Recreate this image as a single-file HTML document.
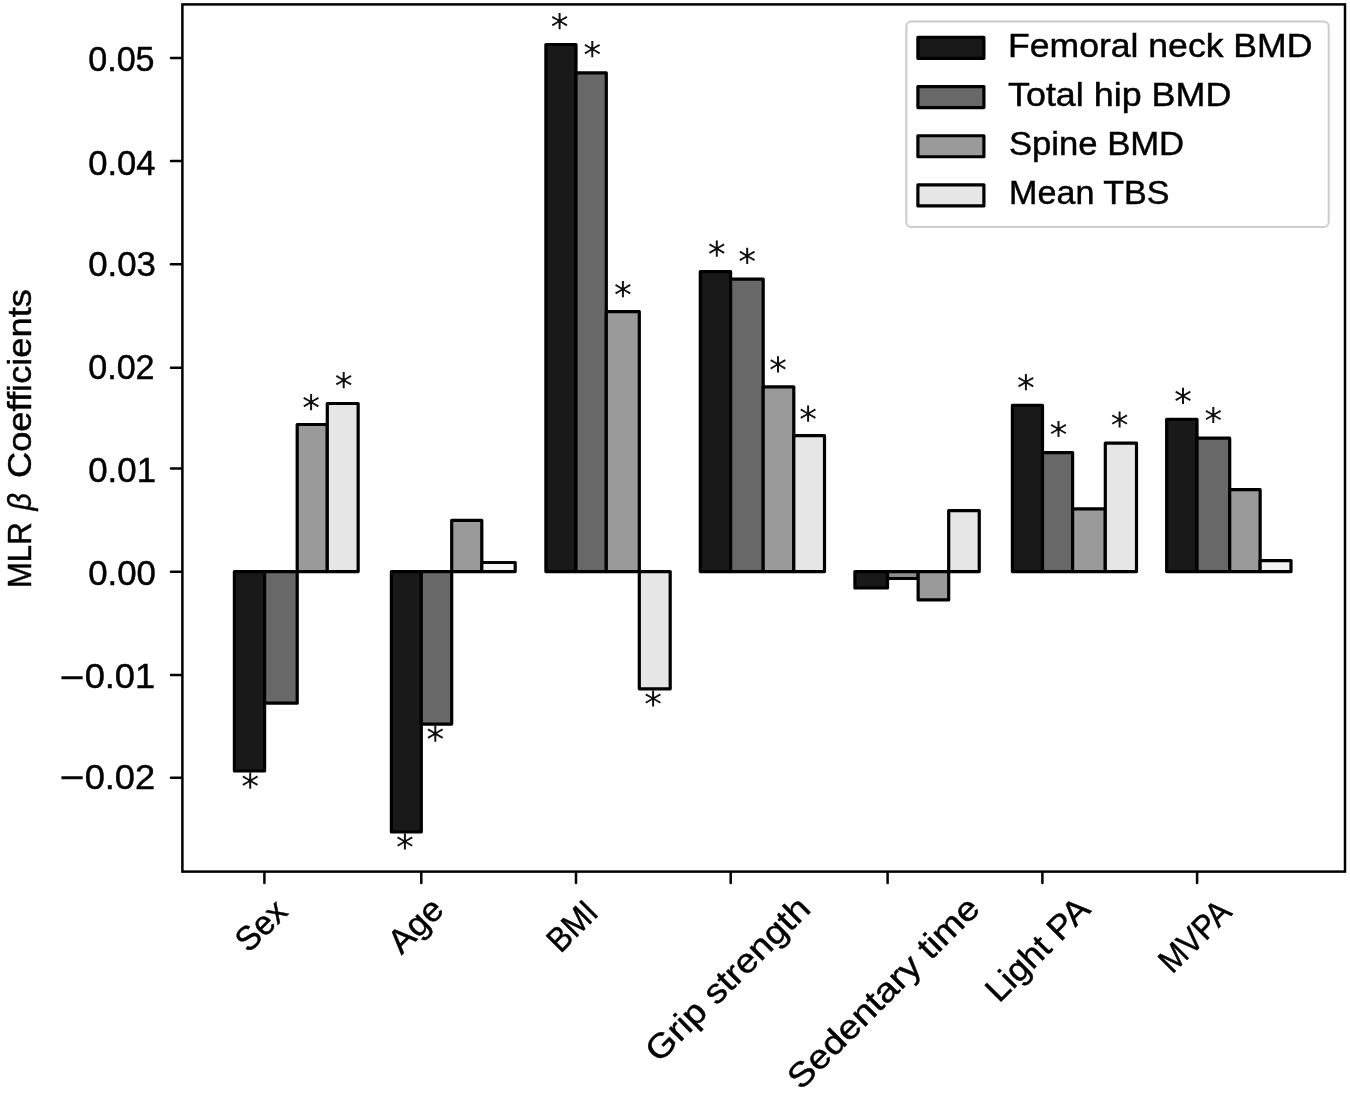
<!DOCTYPE html>
<html lang="en"><head><meta charset="utf-8"><title>MLR beta coefficients</title>
<style>html,body{margin:0;padding:0;background:#fff}body{width:1350px;height:1093px;overflow:hidden}</style></head>
<body>
<svg width="1350" height="1093" viewBox="0 0 1350 1093" style="display:block;will-change:transform;filter:grayscale(1);font-family:'Liberation Sans',sans-serif">
<rect width="1350" height="1093" fill="#fff"/>
<g stroke="#000" stroke-width="3.2" stroke-linejoin="round">
<rect x="234.40" y="571.60" width="30.20" height="199.40" fill="#191919"/>
<rect x="264.60" y="571.60" width="32.60" height="131.60" fill="#686868"/>
<rect x="297.20" y="424.50" width="30.10" height="147.10" fill="#9a9a9a"/>
<rect x="327.30" y="403.50" width="30.85" height="168.10" fill="#e6e6e6"/>
<rect x="391.40" y="571.60" width="29.90" height="260.40" fill="#191919"/>
<rect x="421.30" y="571.60" width="30.40" height="152.50" fill="#686868"/>
<rect x="451.70" y="520.30" width="30.10" height="51.30" fill="#9a9a9a"/>
<rect x="481.80" y="562.50" width="33.40" height="9.10" fill="#f4f4f4"/>
<rect x="545.90" y="44.50" width="30.10" height="527.10" fill="#191919"/>
<rect x="576.00" y="72.80" width="30.30" height="498.80" fill="#686868"/>
<rect x="606.30" y="311.60" width="33.00" height="260.00" fill="#9a9a9a"/>
<rect x="639.30" y="571.60" width="30.90" height="117.20" fill="#e6e6e6"/>
<rect x="700.30" y="271.70" width="30.30" height="299.90" fill="#191919"/>
<rect x="730.60" y="279.10" width="32.60" height="292.50" fill="#686868"/>
<rect x="763.20" y="386.80" width="30.60" height="184.80" fill="#9a9a9a"/>
<rect x="793.80" y="435.70" width="30.70" height="135.90" fill="#e6e6e6"/>
<rect x="854.90" y="571.60" width="32.60" height="16.40" fill="#191919"/>
<rect x="887.50" y="571.60" width="30.65" height="6.90" fill="#8c8c8c"/>
<rect x="918.15" y="571.60" width="30.55" height="28.30" fill="#9a9a9a"/>
<rect x="948.70" y="510.60" width="30.55" height="61.00" fill="#e6e6e6"/>
<rect x="1012.40" y="405.40" width="30.10" height="166.20" fill="#191919"/>
<rect x="1042.50" y="452.60" width="30.10" height="119.00" fill="#686868"/>
<rect x="1072.60" y="508.90" width="32.70" height="62.70" fill="#9a9a9a"/>
<rect x="1105.30" y="443.10" width="31.20" height="128.50" fill="#e6e6e6"/>
<rect x="1166.65" y="419.40" width="30.35" height="152.20" fill="#191919"/>
<rect x="1197.00" y="438.20" width="32.70" height="133.40" fill="#686868"/>
<rect x="1229.70" y="489.70" width="30.45" height="81.90" fill="#9a9a9a"/>
<rect x="1260.15" y="560.60" width="30.85" height="11.00" fill="#f4f4f4"/>
</g>
<g fill="#111">
<path transform="translate(250.20,780.70) scale(0.017334,-0.017334) translate(-512,-1053)" d="M963 1247 604 1053 963 858 905 760 569 963V586H455V963L119 760L61 858L420 1053L61 1247L119 1346L455 1143V1520H569V1143L905 1346Z"/>
<circle cx="250.20" cy="780.70" r="2.1"/>
<path transform="translate(311.10,402.10) scale(0.017334,-0.017334) translate(-512,-1053)" d="M963 1247 604 1053 963 858 905 760 569 963V586H455V963L119 760L61 858L420 1053L61 1247L119 1346L455 1143V1520H569V1143L905 1346Z"/>
<circle cx="311.10" cy="402.10" r="2.1"/>
<path transform="translate(343.70,380.20) scale(0.017334,-0.017334) translate(-512,-1053)" d="M963 1247 604 1053 963 858 905 760 569 963V586H455V963L119 760L61 858L420 1053L61 1247L119 1346L455 1143V1520H569V1143L905 1346Z"/>
<circle cx="343.70" cy="380.20" r="2.1"/>
<path transform="translate(404.90,841.50) scale(0.017334,-0.017334) translate(-512,-1053)" d="M963 1247 604 1053 963 858 905 760 569 963V586H455V963L119 760L61 858L420 1053L61 1247L119 1346L455 1143V1520H569V1143L905 1346Z"/>
<circle cx="404.90" cy="841.50" r="2.1"/>
<path transform="translate(435.30,733.60) scale(0.017334,-0.017334) translate(-512,-1053)" d="M963 1247 604 1053 963 858 905 760 569 963V586H455V963L119 760L61 858L420 1053L61 1247L119 1346L455 1143V1520H569V1143L905 1346Z"/>
<circle cx="435.30" cy="733.60" r="2.1"/>
<path transform="translate(559.60,21.05) scale(0.017334,-0.017334) translate(-512,-1053)" d="M963 1247 604 1053 963 858 905 760 569 963V586H455V963L119 760L61 858L420 1053L61 1247L119 1346L455 1143V1520H569V1143L905 1346Z"/>
<circle cx="559.60" cy="21.05" r="2.1"/>
<path transform="translate(592.30,49.05) scale(0.017334,-0.017334) translate(-512,-1053)" d="M963 1247 604 1053 963 858 905 760 569 963V586H455V963L119 760L61 858L420 1053L61 1247L119 1346L455 1143V1520H569V1143L905 1346Z"/>
<circle cx="592.30" cy="49.05" r="2.1"/>
<path transform="translate(622.90,289.20) scale(0.017334,-0.017334) translate(-512,-1053)" d="M963 1247 604 1053 963 858 905 760 569 963V586H455V963L119 760L61 858L420 1053L61 1247L119 1346L455 1143V1520H569V1143L905 1346Z"/>
<circle cx="622.90" cy="289.20" r="2.1"/>
<path transform="translate(653.10,698.50) scale(0.017334,-0.017334) translate(-512,-1053)" d="M963 1247 604 1053 963 858 905 760 569 963V586H455V963L119 760L61 858L420 1053L61 1247L119 1346L455 1143V1520H569V1143L905 1346Z"/>
<circle cx="653.10" cy="698.50" r="2.1"/>
<path transform="translate(716.80,248.60) scale(0.017334,-0.017334) translate(-512,-1053)" d="M963 1247 604 1053 963 858 905 760 569 963V586H455V963L119 760L61 858L420 1053L61 1247L119 1346L455 1143V1520H569V1143L905 1346Z"/>
<circle cx="716.80" cy="248.60" r="2.1"/>
<path transform="translate(747.20,255.90) scale(0.017334,-0.017334) translate(-512,-1053)" d="M963 1247 604 1053 963 858 905 760 569 963V586H455V963L119 760L61 858L420 1053L61 1247L119 1346L455 1143V1520H569V1143L905 1346Z"/>
<circle cx="747.20" cy="255.90" r="2.1"/>
<path transform="translate(778.00,364.30) scale(0.017334,-0.017334) translate(-512,-1053)" d="M963 1247 604 1053 963 858 905 760 569 963V586H455V963L119 760L61 858L420 1053L61 1247L119 1346L455 1143V1520H569V1143L905 1346Z"/>
<circle cx="778.00" cy="364.30" r="2.1"/>
<path transform="translate(808.10,413.70) scale(0.017334,-0.017334) translate(-512,-1053)" d="M963 1247 604 1053 963 858 905 760 569 963V586H455V963L119 760L61 858L420 1053L61 1247L119 1346L455 1143V1520H569V1143L905 1346Z"/>
<circle cx="808.10" cy="413.70" r="2.1"/>
<path transform="translate(1025.90,382.10) scale(0.017334,-0.017334) translate(-512,-1053)" d="M963 1247 604 1053 963 858 905 760 569 963V586H455V963L119 760L61 858L420 1053L61 1247L119 1346L455 1143V1520H569V1143L905 1346Z"/>
<circle cx="1025.90" cy="382.10" r="2.1"/>
<path transform="translate(1058.50,429.00) scale(0.017334,-0.017334) translate(-512,-1053)" d="M963 1247 604 1053 963 858 905 760 569 963V586H455V963L119 760L61 858L420 1053L61 1247L119 1346L455 1143V1520H569V1143L905 1346Z"/>
<circle cx="1058.50" cy="429.00" r="2.1"/>
<path transform="translate(1119.60,419.50) scale(0.017334,-0.017334) translate(-512,-1053)" d="M963 1247 604 1053 963 858 905 760 569 963V586H455V963L119 760L61 858L420 1053L61 1247L119 1346L455 1143V1520H569V1143L905 1346Z"/>
<circle cx="1119.60" cy="419.50" r="2.1"/>
<path transform="translate(1183.00,395.90) scale(0.017334,-0.017334) translate(-512,-1053)" d="M963 1247 604 1053 963 858 905 760 569 963V586H455V963L119 760L61 858L420 1053L61 1247L119 1346L455 1143V1520H569V1143L905 1346Z"/>
<circle cx="1183.00" cy="395.90" r="2.1"/>
<path transform="translate(1213.30,415.00) scale(0.017334,-0.017334) translate(-512,-1053)" d="M963 1247 604 1053 963 858 905 760 569 963V586H455V963L119 760L61 858L420 1053L61 1247L119 1346L455 1143V1520H569V1143L905 1346Z"/>
<circle cx="1213.30" cy="415.00" r="2.1"/>
</g>
<rect x="182.4" y="4.4" width="1162.6" height="867.2" fill="none" stroke="#000" stroke-width="2.5"/>
<g stroke="#000" stroke-width="2.5" stroke-linecap="round">
<line x1="171.0" x2="181.4" y1="58.00" y2="58.00"/>
<line x1="171.0" x2="181.4" y1="161.10" y2="161.10"/>
<line x1="171.0" x2="181.4" y1="264.35" y2="264.35"/>
<line x1="171.0" x2="181.4" y1="367.80" y2="367.80"/>
<line x1="171.0" x2="181.4" y1="468.50" y2="468.50"/>
<line x1="171.0" x2="181.4" y1="571.75" y2="571.75"/>
<line x1="171.0" x2="181.4" y1="674.90" y2="674.90"/>
<line x1="171.0" x2="181.4" y1="777.80" y2="777.80"/>
<line x1="264.40" x2="264.40" y1="872.6" y2="883.0"/>
<line x1="421.30" x2="421.30" y1="872.6" y2="883.0"/>
<line x1="576.00" x2="576.00" y1="872.6" y2="883.0"/>
<line x1="730.70" x2="730.70" y1="872.6" y2="883.0"/>
<line x1="887.60" x2="887.60" y1="872.6" y2="883.0"/>
<line x1="1042.40" x2="1042.40" y1="872.6" y2="883.0"/>
<line x1="1197.10" x2="1197.10" y1="872.6" y2="883.0"/>
</g>
<g fill="#000" stroke="#000" stroke-width="0.45">
<text x="88.25" y="71.12" font-size="34.2" textLength="66.32" lengthAdjust="spacingAndGlyphs">0.05</text>
<text x="88.25" y="174.67" font-size="34.2" textLength="67.30" lengthAdjust="spacingAndGlyphs">0.04</text>
<text x="88.25" y="275.68" font-size="34.2" textLength="67.73" lengthAdjust="spacingAndGlyphs">0.03</text>
<text x="88.25" y="378.68" font-size="34.2" textLength="66.33" lengthAdjust="spacingAndGlyphs">0.02</text>
<text x="88.25" y="482.08" font-size="34.2" textLength="67.77" lengthAdjust="spacingAndGlyphs">0.01</text>
<text x="88.25" y="584.65" font-size="34.2" textLength="67.71" lengthAdjust="spacingAndGlyphs">0.00</text>
<text y="688.14" font-size="34.2"><tspan x="60.05" y="688.70" textLength="24.67" lengthAdjust="spacingAndGlyphs">−</tspan><tspan x="84.65" y="688.14" textLength="70.51" lengthAdjust="spacingAndGlyphs">0.01</tspan></text>
<text y="789.13" font-size="34.2"><tspan x="60.05" y="789.35" textLength="24.67" lengthAdjust="spacingAndGlyphs">−</tspan><tspan x="84.65" y="789.13" textLength="70.52" lengthAdjust="spacingAndGlyphs">0.02</tspan></text>
</g>
<rect x="906.3" y="21.5" width="422.4" height="205.5" rx="5" ry="5" fill="#fff" fill-opacity="0.8" stroke="#ccc" stroke-width="2"/>
<g fill="#000" stroke="#000" stroke-width="0.45">
<rect x="917.9" y="37.35" width="66" height="21.0" fill="#191919" stroke="#000" stroke-width="3.2" stroke-linejoin="round"/>
<text x="1008.00" y="56.70" font-size="33.8" textLength="304.42" lengthAdjust="spacingAndGlyphs">Femoral neck BMD</text>
<rect x="917.9" y="86.55" width="66" height="21.0" fill="#686868" stroke="#000" stroke-width="3.2" stroke-linejoin="round"/>
<text x="1008.00" y="105.80" font-size="33.8" textLength="223.30" lengthAdjust="spacingAndGlyphs">Total hip BMD</text>
<rect x="917.9" y="135.75" width="66" height="21.0" fill="#9a9a9a" stroke="#000" stroke-width="3.2" stroke-linejoin="round"/>
<text x="1008.90" y="154.90" font-size="33.8" textLength="175.24" lengthAdjust="spacingAndGlyphs">Spine BMD</text>
<rect x="917.9" y="184.95" width="66" height="21.0" fill="#e6e6e6" stroke="#000" stroke-width="3.2" stroke-linejoin="round"/>
<text x="1009.12" y="204.00" font-size="33.8" textLength="160.46" lengthAdjust="spacingAndGlyphs">Mean TBS</text>
<text transform="translate(262.69,927.38) rotate(-45)" x="-28.55" y="8.83" font-size="33.8" textLength="57.11" lengthAdjust="spacingAndGlyphs">Sex</text>
<text transform="translate(417.25,927.18) rotate(-45)" x="-31.20" y="8.83" font-size="33.8" textLength="62.40" lengthAdjust="spacingAndGlyphs">Age</text>
<text transform="translate(574.02,927.87) rotate(-45)" x="-27.97" y="8.83" font-size="33.8" textLength="55.95" lengthAdjust="spacingAndGlyphs">BMI</text>
<text transform="translate(729.35,980.92) rotate(-45)" x="-108.28" y="8.83" font-size="33.8" textLength="216.56" lengthAdjust="spacingAndGlyphs">Grip strength</text>
<text transform="translate(884.99,994.34) rotate(-45)" x="-127.76" y="8.83" font-size="33.8" textLength="255.53" lengthAdjust="spacingAndGlyphs">Sedentary time</text>
<text transform="translate(1039.30,951.15) rotate(-45)" x="-65.69" y="8.83" font-size="33.8" textLength="131.38" lengthAdjust="spacingAndGlyphs">Light PA</text>
<text transform="translate(1196.52,938.08) rotate(-45)" x="-43.14" y="8.83" font-size="33.8" textLength="86.27" lengthAdjust="spacingAndGlyphs">MVPA</text>
<text transform="translate(30.60,0) rotate(-90)" y="0" font-size="33.8"><tspan x="-588.10" textLength="65.81" lengthAdjust="spacingAndGlyphs">MLR</tspan> <tspan x="-510.50" font-style="italic" textLength="17.39" lengthAdjust="spacingAndGlyphs">β</tspan> <tspan x="-478.10" textLength="189.10" lengthAdjust="spacingAndGlyphs">Coefficients</tspan></text>
</g>
</svg>
</body></html>
